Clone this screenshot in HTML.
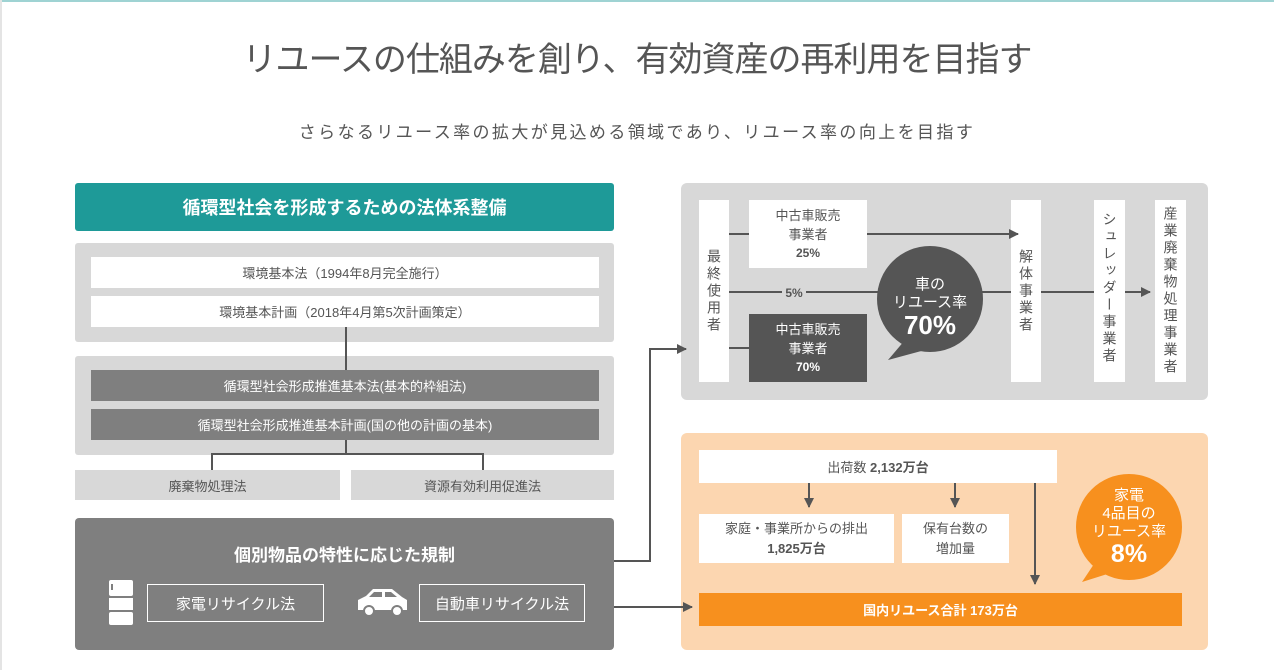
<!DOCTYPE html>
<html><head><meta charset="utf-8"><style>
*{margin:0;padding:0;box-sizing:border-box}
body{width:1274px;height:670px;background:#fff;position:relative;overflow:hidden;font-family:"Liberation Sans","Noto Sans CJK JP",sans-serif;color:#555}
.a{position:absolute;display:flex;align-items:center;justify-content:center;text-align:center}
.v{writing-mode:vertical-rl;text-orientation:upright;font-size:14px;letter-spacing:3px;justify-content:center}
svg{position:absolute;left:0;top:0}
</style></head><body>
<div style="position:absolute;left:0;top:0;width:1274px;height:2px;background:#9fd3d3"></div>
<div style="position:absolute;left:0;top:0;width:2px;height:670px;background:#e4e4e4"></div>
<div class="a" style="left:0;top:33px;width:1274px;height:46px;font-size:34px;letter-spacing:-1px;color:#555">リユースの仕組みを創り、有効資産の再利用を目指す</div>
<div class="a" style="left:0;top:118px;width:1274px;height:24px;font-size:17px;letter-spacing:2.4px;color:#555">さらなるリユース率の拡大が見込める領域であり、リユース率の向上を目指す</div>

<div class="a" style="left:75px;top:183px;width:539px;height:48px;background:#1e9a98;border-radius:3px;color:#fff;font-size:18px;font-weight:bold">循環型社会を形成するための法体系整備</div>
<div style="position:absolute;left:75px;top:243px;width:539px;height:99px;background:#d8d8d8;border-radius:3px"></div>
<div class="a" style="left:91px;top:257px;width:508px;height:31px;background:#fff;font-size:13px">環境基本法（1994年8月完全施行）</div>
<div class="a" style="left:91px;top:296px;width:508px;height:31px;background:#fff;font-size:13px">環境基本計画（2018年4月第5次計画策定）</div>
<div style="position:absolute;left:75px;top:356px;width:539px;height:99px;background:#d8d8d8;border-radius:3px"></div>
<div class="a" style="left:91px;top:370px;width:508px;height:31px;background:#7f7f7f;color:#fff;font-size:13px">循環型社会形成推進基本法(基本的枠組法)</div>
<div class="a" style="left:91px;top:409px;width:508px;height:31px;background:#7f7f7f;color:#fff;font-size:13px">循環型社会形成推進基本計画(国の他の計画の基本)</div>
<div class="a" style="left:75px;top:470px;width:265px;height:30px;background:#d8d8d8;font-size:13px">廃棄物処理法</div>
<div class="a" style="left:351px;top:470px;width:263px;height:30px;background:#d8d8d8;font-size:13px">資源有効利用促進法</div>
<div style="position:absolute;left:75px;top:518px;width:539px;height:132px;background:#7f7f7f;border-radius:4px"></div>
<div class="a" style="left:75px;top:540px;width:539px;height:26px;color:#fff;font-size:17px;font-weight:bold">個別物品の特性に応じた規制</div>
<div class="a" style="left:147px;top:584px;width:177px;height:38px;border:1.5px solid #fff;color:#fff;font-size:15px">家電リサイクル法</div>
<div class="a" style="left:419px;top:584px;width:166px;height:38px;border:1.5px solid #fff;color:#fff;font-size:15px">自動車リサイクル法</div>

<div style="position:absolute;left:681px;top:183px;width:527px;height:217px;background:#d8d8d8;border-radius:6px"></div>
<div class="a v" style="left:699px;top:200px;width:30px;height:182px;background:#fff">最終使用者</div>
<div class="a" style="left:749px;top:200px;width:118px;height:68px;background:#fff;font-size:13px;line-height:19px;flex-direction:column">中古車販売<br>事業者<b style="font-size:12px">25%</b></div>
<div class="a" style="left:749px;top:314px;width:118px;height:68px;background:#555;color:#fff;font-size:13px;line-height:19px;flex-direction:column">中古車販売<br>事業者<b style="font-size:12px">70%</b></div>
<div class="a v" style="left:1011px;top:200px;width:30px;height:182px;background:#fff">解体事業者</div>
<div class="a v" style="left:1094px;top:200px;width:31px;height:182px;background:#fff;justify-content:flex-start;padding-top:12px">シュレッダー事業者</div>
<div class="a v" style="left:1155px;top:200px;width:31px;height:182px;background:#fff">産業廃棄物処理事業者</div>

<div style="position:absolute;left:681px;top:433px;width:527px;height:217px;background:#fcd6b0;border-radius:6px"></div>
<div class="a" style="left:699px;top:450px;width:358px;height:33px;background:#fff;font-size:13px">出荷数&nbsp;<b>2,132万台</b></div>
<div class="a" style="left:699px;top:514px;width:195px;height:49px;background:#fff;font-size:13px;line-height:20px;flex-direction:column">家庭・事業所からの排出<b>1,825万台</b></div>
<div class="a" style="left:902px;top:514px;width:107px;height:49px;background:#fff;font-size:13px;line-height:20px;flex-direction:column">保有台数の<br>増加量</div>
<div class="a" style="left:699px;top:593px;width:483px;height:33px;background:#f7901e;color:#fff;font-size:13px;font-weight:bold">国内リユース合計 173万台</div>

<svg width="1274" height="670">
<defs><marker id="ar" markerWidth="10" markerHeight="10" refX="9" refY="5" orient="auto" markerUnits="userSpaceOnUse"><path d="M0,0L10,5L0,10z" fill="#555"/></marker></defs>
<g stroke="#555" stroke-width="2" fill="none">
<path d="M346,327V370"/>
<path d="M346,440V454M212,470V454H483V470"/>
<path d="M614,561H650V349H686" marker-end="url(#ar)"/>
<path d="M614,607H692" marker-end="url(#ar)"/>
<path d="M729,234H749M867,234H1018" marker-end="url(#ar)"/>
<path d="M729,292H782M806,292H1011"/>
<path d="M729,348H749"/>
<path d="M1041,292H1094"/>
<path d="M1125,292H1150" marker-end="url(#ar)"/>
<path d="M809,483V507" marker-end="url(#ar)"/>
<path d="M955,483V507" marker-end="url(#ar)"/>
<path d="M1035,483V584" marker-end="url(#ar)"/>
</g>
<text x="794" y="297" font-size="12" font-weight="bold" fill="#555" text-anchor="middle" font-family="Liberation Sans">5%</text>
<path d="M905,340L888,360L925,350z" fill="#555"/>
<circle cx="930" cy="299" r="53" fill="#555"/>
<text x="930" y="289" font-size="15" fill="#fff" text-anchor="middle" font-family="Liberation Sans,Noto Sans CJK JP,sans-serif">車の</text>
<text x="930" y="307" font-size="15" fill="#fff" text-anchor="middle" font-family="Liberation Sans,Noto Sans CJK JP,sans-serif">リユース率</text>
<text x="930" y="334" font-size="26" font-weight="bold" fill="#fff" text-anchor="middle" font-family="Liberation Sans">70%</text>
<path d="M1100,555L1082,582L1120,570z" fill="#f7901e"/>
<circle cx="1129" cy="527" r="53" fill="#f7901e"/>
<text x="1129" y="500" font-size="15" fill="#fff" text-anchor="middle" font-family="Liberation Sans,Noto Sans CJK JP,sans-serif">家電</text>
<text x="1129" y="518" font-size="15" fill="#fff" text-anchor="middle" font-family="Liberation Sans,Noto Sans CJK JP,sans-serif">4品目の</text>
<text x="1129" y="536" font-size="15" fill="#fff" text-anchor="middle" font-family="Liberation Sans,Noto Sans CJK JP,sans-serif">リユース率</text>
<text x="1129" y="562" font-size="25" font-weight="bold" fill="#fff" text-anchor="middle" font-family="Liberation Sans">8%</text>
<rect x="109" y="580" width="24" height="16" rx="2" fill="#fff"/>
<rect x="109" y="598" width="24" height="12" fill="#fff"/>
<rect x="109" y="612" width="24" height="13" rx="2" fill="#fff"/>
<rect x="111" y="584" width="2" height="6" fill="#7f7f7f"/>
<path d="M358,610V600L366,596L373,589H392L402,597L407,600V610Z" fill="#fff"/>
<path d="M374,592H382V597H369Z M385,592H391L397,597H385Z" fill="#7f7f7f"/>
<circle cx="369" cy="611" r="5" fill="#fff" stroke="#7f7f7f" stroke-width="2"/>
<circle cx="397" cy="611" r="5" fill="#fff" stroke="#7f7f7f" stroke-width="2"/>
</svg>
</body></html>
